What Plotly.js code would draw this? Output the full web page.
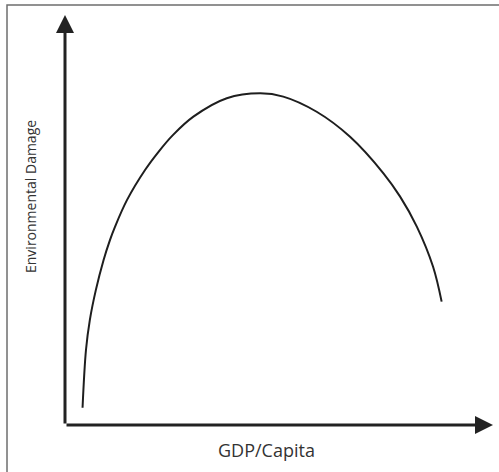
<!DOCTYPE html>
<html>
<head>
<meta charset="utf-8">
<script src="https://cdn.plot.ly/plotly-3.0.1.min.js"></script>
<style>html,body{margin:0;padding:0;background:#fff;}#chart{width:499px;height:472px;}</style>
</head>
<body>
<div id="chart"></div>
<script>
// GDP per capita (arbitrary units, 0-100) and environmental damage (0-100)
var gdpPerCapita = [4.1, 4.9, 5.8, 7.2, 9.0, 10.5, 11.7, 14.5, 18.7, 21.9, 25.2, 30.0, 37.8, 45.6, 51.0, 58.8, 66.6, 74.4, 78.3, 82.2, 86.0, 88.0];
var envDamage    = [4.2, 18.3, 25.6, 32.9, 40.2, 45.1, 48.4, 54.9, 62.2, 66.7, 70.7, 75.2, 79.7, 80.9, 80.1, 76.4, 70.3, 61.4, 55.7, 48.4, 38.6, 30.1];
var xLabel = "GDP/Capita";
var yLabel = "Environmental Damage";

var trace = {
  x: gdpPerCapita,
  y: envDamage,
  type: "scatter",
  mode: "lines",
  line: {color: "#1e1e1e", width: 2, shape: "spline", smoothing: 1},
  hoverinfo: "skip"
};

var layout = {
  width: 499, height: 472,
  margin: {l: 65, r: 6, t: 15, b: 47},
  paper_bgcolor: "#ffffff",
  plot_bgcolor: "#ffffff",
  showlegend: false,
  xaxis: {range: [0, 100], showgrid: false, zeroline: false, showticklabels: false, ticks: "", showline: false, fixedrange: true},
  yaxis: {range: [0, 100], showgrid: false, zeroline: false, showticklabels: false, ticks: "", showline: false, fixedrange: true},
  shapes: [
    {type: "rect", xref: "paper", yref: "paper", x0: -0.1355, x1: 1.03, y0: -0.15, y1: 1.0244,
     line: {color: "#6e6e6e", width: 1.5}, fillcolor: "rgba(0,0,0,0)", layer: "below"}
  ],
  annotations: [
    {xref: "paper", yref: "paper", x: 0, y: 1, ax: 0, ay: 410, axref: "pixel", ayref: "pixel",
     text: "", showarrow: true, arrowhead: 2, arrowsize: 1.2, arrowwidth: 3, arrowcolor: "#222", standoff: 0},
    {xref: "paper", yref: "paper", x: 1, y: 0, ax: -428, ay: 0, axref: "pixel", ayref: "pixel",
     text: "", showarrow: true, arrowhead: 2, arrowsize: 1.2, arrowwidth: 3, arrowcolor: "#222", standoff: 0},
    {xref: "paper", yref: "paper", x: (266 - 65) / 428, y: (425 - 450) / 410, text: xLabel, showarrow: false,
     font: {family: "Open Sans", size: 18, color: "#333"}, xanchor: "center", yanchor: "middle"},
    {xref: "paper", yref: "paper", x: (31 - 65) / 428, y: (425 - 197) / 410, text: yLabel, showarrow: false, textangle: -90,
     font: {family: "Open Sans", size: 14, color: "#333"}, xanchor: "center", yanchor: "middle"}
  ]
};

Plotly.newPlot("chart", [trace], layout, {displayModeBar: false, staticPlot: true});
</script>
</body>
</html>
